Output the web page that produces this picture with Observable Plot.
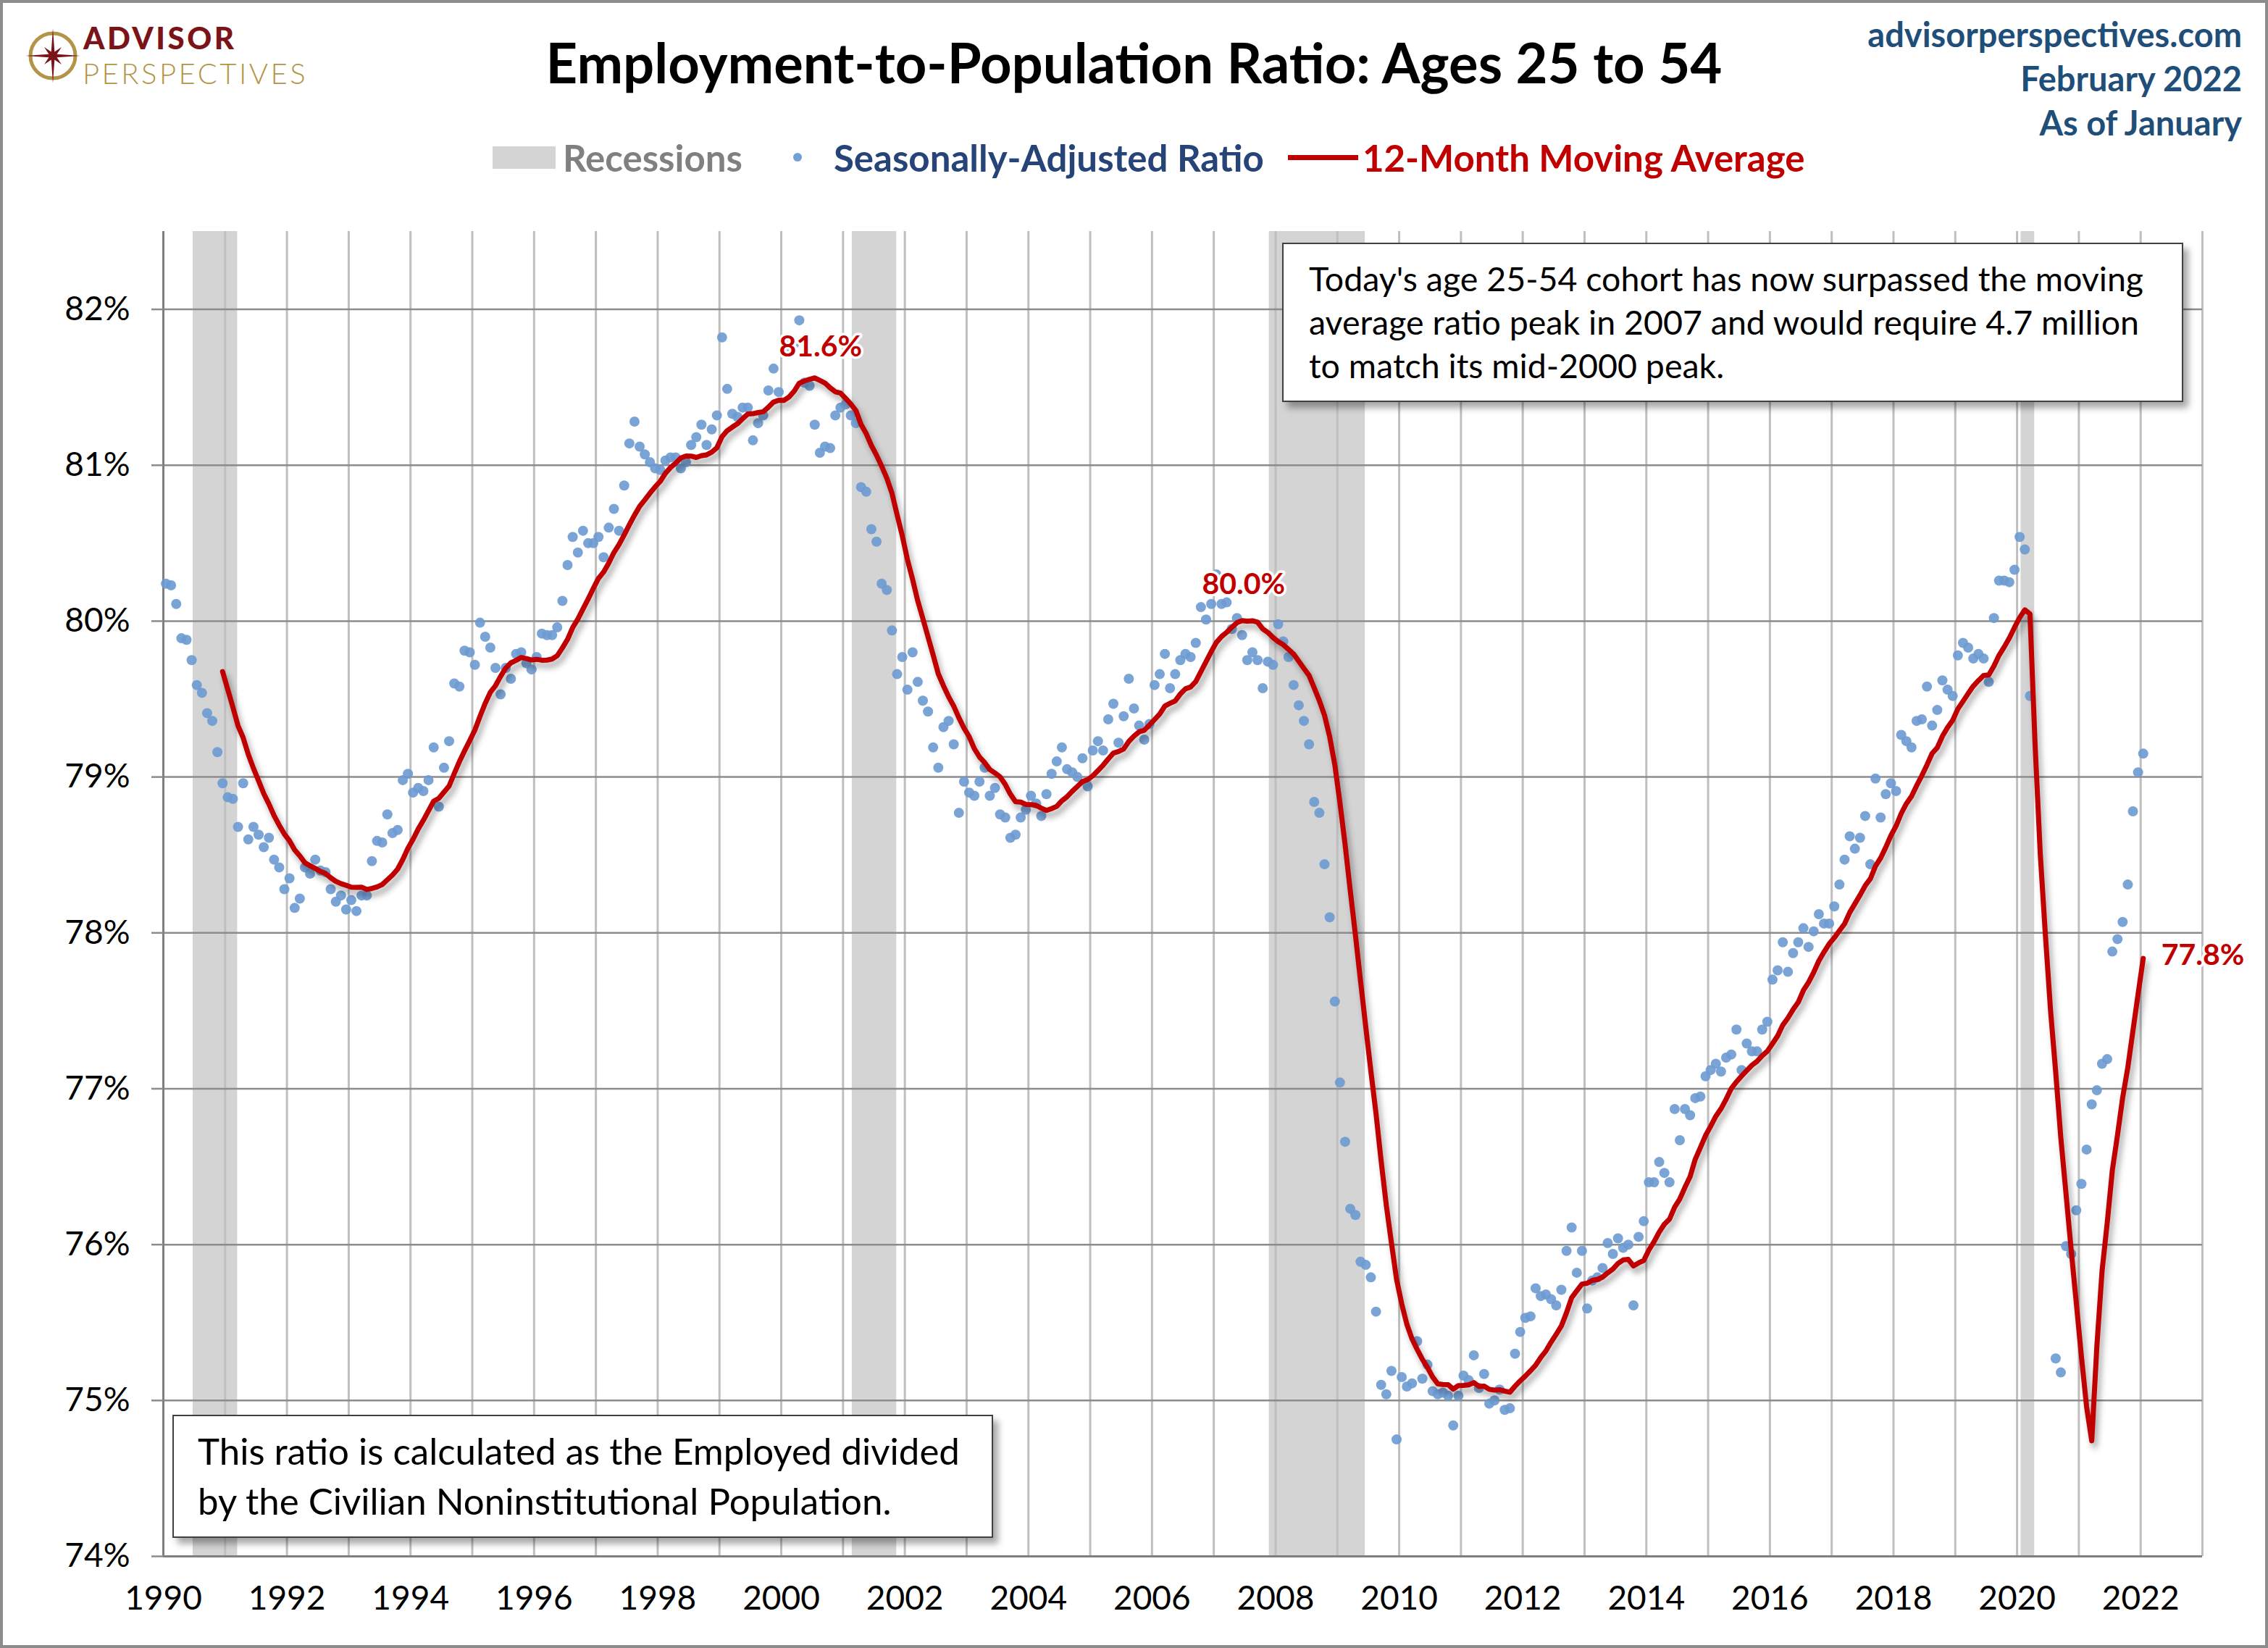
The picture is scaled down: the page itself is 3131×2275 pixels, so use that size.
<!DOCTYPE html>
<html><head><meta charset="utf-8">
<script src="https://cdn.jsdelivr.net/npm/d3@7"></script>
<script src="https://cdn.jsdelivr.net/npm/@observablehq/plot@0.6"></script>
<style>
html,body{margin:0;padding:0;background:#fff;overflow:hidden;}
#wrap{position:relative;width:3131px;height:2275px;font-family:Lato,"Open Sans",sans-serif;background:#fff;overflow:hidden;}
#frame{position:absolute;left:0;top:0;width:3131px;height:2275px;box-sizing:border-box;border:4px solid #8c8c8c;pointer-events:none;z-index:20;}
#header{position:relative;height:300px;}
.abs{position:absolute;white-space:nowrap;line-height:1;}
.logo1{position:absolute;left:115px;top:26.5px;font-size:42px;line-height:1.2;font-weight:900;color:#7a1418;letter-spacing:3.5px;white-space:nowrap;}
.logo2{position:absolute;left:114px;top:77px;font-size:40px;line-height:1.2;font-weight:300;color:#b39548;letter-spacing:3.5px;white-space:nowrap;}
#title{left:0;width:3131px;text-align:center;top:48px;font-size:76px;font-weight:700;color:#000;}
#legend{position:absolute;left:680px;top:191px;height:52px;display:flex;align-items:center;font-size:51px;font-weight:700;white-space:nowrap;line-height:1;}
#right{position:absolute;right:36px;top:17px;text-align:right;font-size:47px;font-weight:700;color:#1f4e79;line-height:61px;}
#chart{position:relative;}
.note{position:absolute;background:#fff;border:2px solid #404040;box-sizing:border-box;box-shadow:7px 8px 9px rgba(0,0,0,0.35);color:#000;z-index:5;white-space:nowrap;}
</style></head><body>
<div id="wrap">
  <div id="header">
    <svg id="logo" class="abs" width="100" height="100" style="left:23px;top:27px"></svg>
    <div class="logo1">ADVISOR</div>
    <div class="logo2">PERSPECTIVES</div>
    <div id="title" class="abs">Employment-to-Population Ratio: Ages 25 to 54</div>
    <div id="legend">
      <span style="display:inline-block;width:87px;height:31px;background:#d4d4d4;margin-right:10px;"></span>
      <span style="color:#808080;">Recessions</span>
      <span style="display:inline-block;width:12px;height:12px;border-radius:6px;background:#729fd4;margin:0 44px 0 70px;"></span>
      <span style="color:#264478;">Seasonally-Adjusted Ratio</span>
      <span style="display:inline-block;width:97px;height:7px;background:#c00000;margin:0 6px 0 33px;"></span>
      <span style="color:#c00000;">12-Month Moving Average</span>
    </div>
    <div id="right">advisorperspectives.com<br>February 2022<br>As of January</div>
  </div>
  <div id="chart"></div>
  <div class="note" style="left:1770px;top:335px;width:1244px;height:220px;padding:17px 0 0 35px;line-height:60px;font-size:46.5px;">Today's age 25-54 cohort has now surpassed the moving<br>average ratio peak in 2007 and would require 4.7 million<br>to match its mid-2000 peak.</div>
  <div class="note" style="left:238px;top:1953px;width:1133px;height:170px;padding:13px 0 0 33px;line-height:69px;font-size:51px;">This ratio is calculated as the Employed divided<br>by the Civilian Noninstitutional Population.</div>
  <div id="frame"></div>
</div>
<script>
// Seasonally-adjusted ratio, monthly, Jan..Dec of each year
const ratio1990s = [
  [80.24,80.23,80.11,79.89,79.88,79.75,79.59,79.54,79.41,79.36,79.16,78.96],
  [78.87,78.86,78.68,78.96,78.60,78.68,78.63,78.55,78.61,78.47,78.42,78.28],
  [78.35,78.16,78.22,78.42,78.38,78.47,78.40,78.39,78.28,78.20,78.24,78.15],
  [78.21,78.14,78.24,78.24,78.46,78.59,78.58,78.76,78.64,78.66,78.98,79.02],
  [78.90,78.93,78.91,78.98,79.19,78.81,79.06,79.23,79.60,79.58,79.81,79.80],
  [79.72,79.99,79.90,79.83,79.70,79.53,79.70,79.63,79.79,79.80,79.73,79.69],
  [79.77,79.92,79.91,79.91,79.96,80.13,80.36,80.54,80.44,80.58,80.50,80.50],
  [80.54,80.41,80.60,80.72,80.58,80.87,81.14,81.28,81.12,81.07,81.02,80.98],
  [80.97,81.03,81.05,81.05,80.98,81.02,81.13,81.18,81.26,81.13,81.23,81.32],
  [81.82,81.49,81.33,81.31,81.37,81.37,81.16,81.27,81.32,81.48,81.62,81.47]
];
const ratio2000s = [
  [81.80,81.75,81.78,81.93,81.53,81.51,81.26,81.08,81.12,81.11,81.32,81.37],
  [81.39,81.32,81.27,80.86,80.83,80.59,80.51,80.24,80.20,79.94,79.66,79.77],
  [79.56,79.80,79.61,79.49,79.42,79.19,79.06,79.32,79.36,79.21,78.77,78.97],
  [78.90,78.88,78.97,79.06,78.88,78.93,78.76,78.74,78.61,78.63,78.74,78.79],
  [78.88,78.83,78.75,78.89,79.02,79.10,79.19,79.05,79.03,79.00,79.12,78.94],
  [79.17,79.23,79.17,79.37,79.47,79.22,79.39,79.63,79.44,79.33,79.24,79.34],
  [79.59,79.66,79.79,79.57,79.66,79.75,79.79,79.77,79.86,80.09,80.01,80.11],
  [80.30,80.11,80.12,79.95,80.02,79.91,79.75,79.80,79.75,79.57,79.74,79.72],
  [79.98,79.87,79.77,79.59,79.46,79.36,79.21,78.84,78.77,78.44,78.10,77.56],
  [77.04,76.66,76.23,76.19,75.89,75.87,75.79,75.57,75.10,75.04,75.19,74.75]
];
const ratio2010s = [
  [75.15,75.09,75.11,75.38,75.14,75.23,75.06,75.04,75.05,75.03,74.84,75.03],
  [75.16,75.13,75.29,75.08,75.17,74.98,75.00,75.07,74.94,74.95,75.30,75.44],
  [75.53,75.54,75.72,75.67,75.68,75.65,75.61,75.71,75.96,76.11,75.82,75.96],
  [75.59,75.77,75.79,75.85,76.01,75.94,76.04,75.98,76.00,75.61,76.05,76.15],
  [76.40,76.40,76.53,76.46,76.40,76.87,76.67,76.87,76.83,76.94,76.95,77.08],
  [77.12,77.16,77.11,77.20,77.22,77.38,77.12,77.29,77.24,77.24,77.38,77.43],
  [77.70,77.76,77.94,77.75,77.87,77.94,78.03,77.91,78.01,78.12,78.06,78.06],
  [78.17,78.31,78.47,78.62,78.54,78.61,78.75,78.44,78.99,78.74,78.89,78.96],
  [78.91,79.27,79.23,79.19,79.36,79.37,79.58,79.33,79.43,79.62,79.56,79.52],
  [79.78,79.86,79.83,79.76,79.79,79.76,79.61,80.02,80.26,80.26,80.25,80.33]
];
const ratio2020s = [
  [80.54,80.46,79.52,69.70,71.40,73.50,73.80,75.27,75.18,75.99,75.94,76.22],
  [76.39,76.61,76.90,76.99,77.16,77.19,77.88,77.96,78.07,78.31,78.78,79.03],
  [79.15]
];
// NBER recessions: [start year, start month, end year, end month]
const recessionSpans = [[1990,7,1991,3],[2001,3,2001,11],[2007,12,2009,6],[2020,2,2020,4]];
const yTicks = [74,75,76,77,78,79,80,81,82];
const xTickYears = [1990,1992,1994,1996,1998,2000,2002,2004,2006,2008,2010,2012,2014,2016,2018,2020,2022];
const gridYears = d3.range(1990, 2024);
const peakLabels = ["81.6%","80.0%","77.8%"];

// build monthly table
const monthly = [];
[[1990,ratio1990s],[2000,ratio2000s],[2010,ratio2010s],[2020,ratio2020s]].forEach(([y0,rows]) => {
  rows.forEach((row,i) => row.forEach((v,m) => monthly.push({t: y0 + i + (m + 0.5)/12, v})));
});
// 12-month trailing moving average
const ma = [];
for (let i = 11; i < monthly.length; i++) {
  ma.push({t: monthly[i].t, v: d3.mean(monthly.slice(i-11, i+1), d => d.v)});
}
const recessions = recessionSpans.map(([y1,m1,y2,m2]) => ({start: y1 + (m1-1)/12 - 0.02, end: y2 + m2/12 - 0.05}));

const peakIn = (a,b) => d3.greatest(ma.filter(d => d.t >= a && d.t < b), d => d.v);
const peak2000 = [{...peakIn(1999,2002), text: peakLabels[0]}];
const peak2007 = [{...peakIn(2006,2009), text: peakLabels[1]}];
const lastMA = [{...ma[ma.length-1], text: peakLabels[2]}];
const labelStyle = {x: "t", y: "v", text: "text", fill: "#c00000", fontWeight: "bold", fontSize: 41, stroke: "white", strokeWidth: 7};

const chart = Plot.plot({
  width: 3131,
  height: 1975,
  marginTop: 19,
  marginLeft: 225,
  marginRight: 91,
  marginBottom: 127,
  x: {domain: [1990, 2023]},
  y: {domain: [74, 82.5]},
  style: {fontFamily: "Lato, 'Open Sans', sans-serif", fontSize: "46px", color: "#000", background: "transparent", overflow: "visible"},
  marks: [
    Plot.rect(recessions, {x1: "start", x2: "end", fill: "#d4d4d4"}),
    Plot.ruleX(gridYears, {stroke: "#bfbfbf", strokeWidth: 3}),
    Plot.ruleY(yTicks, {stroke: "#8c8c8c", strokeWidth: 2.5}),
    Plot.ruleX([1990], {stroke: "#7f7f7f", strokeWidth: 3}),
    Plot.ruleY([74], {stroke: "#7f7f7f", strokeWidth: 3}),
    Plot.axisY({ticks: yTicks, tickFormat: d => d + "%", tickSize: 16, tickPadding: 30, stroke: "#8c8c8c", strokeWidth: 2.5, label: null}),
    Plot.axisX({ticks: xTickYears, tickFormat: d => String(d), tickSize: 0, tickPadding: 41, label: null}),
    Plot.dot(monthly.filter(d => d.v >= 74), {x: "t", y: "v", r: 7, fill: "#6d9ad2", fillOpacity: 0.9}),
    Plot.line(ma, {x: "t", y: "v", stroke: "#c00000", strokeWidth: 7, strokeLinejoin: "round"}),
    Plot.text(peak2000, {...labelStyle, dx: 8, dy: -43}),
    Plot.text(peak2007, {...labelStyle, dx: 2, dy: -50}),
    Plot.text(lastMA, {...labelStyle, dx: 25, dy: -4, textAnchor: "start"})
  ]
});
document.getElementById("chart").appendChild(chart);
d3.select(chart).selectAll('g[aria-label="line"]').style("filter", "drop-shadow(4px 7px 4px rgba(0,0,0,0.35))");

// logo compass
const logo = d3.select("#logo");
logo.append("circle").attr("cx", 50).attr("cy", 50).attr("r", 31).attr("fill", "none").attr("stroke", "#b39548").attr("stroke-width", 5);
const pts = [];
for (let k = 0; k < 16; k++) {
  const a = k * Math.PI / 8 - Math.PI / 2;
  const r = k % 4 === 0 ? 38 : (k % 2 === 0 ? 17 : 6);
  pts.push([50 + r * Math.cos(a), 50 + r * Math.sin(a)]);
}
logo.append("polygon").attr("points", pts.map(p => p.join(",")).join(" ")).attr("fill", "#7a1418");
</script>
</body></html>
